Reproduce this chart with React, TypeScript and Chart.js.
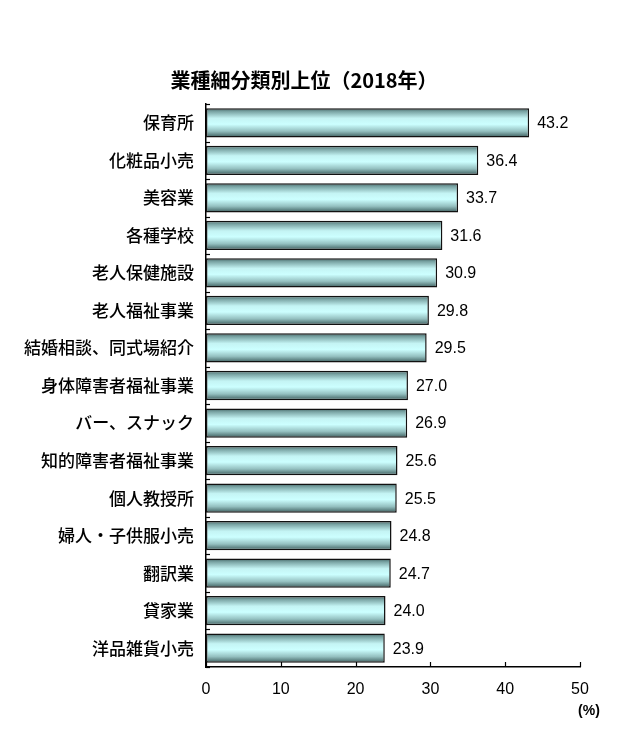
import React, { useEffect, useRef } from "react";
import { Chart, registerables } from "chart.js";

Chart.register(...registerables);

const titleText = "業種細分類別上位（2018年）";
const categories = [
  "保育所",
  "化粧品小売",
  "美容業",
  "各種学校",
  "老人保健施設",
  "老人福祉事業",
  "結婚相談、同式場紹介",
  "身体障害者福祉事業",
  "バー、スナック",
  "知的障害者福祉事業",
  "個人教授所",
  "婦人・子供服小売",
  "翻訳業",
  "貸家業",
  "洋品雑貨小売",
];
const values = [43.2, 36.4, 33.7, 31.6, 30.9, 29.8, 29.5, 27.0, 26.9, 25.6, 25.5, 24.8, 24.7, 24.0, 23.9];
const xTicks = [0, 10, 20, 30, 40, 50];
const unitLabel = "(%)";

const CJK = '"Noto Sans CJK JP", "Noto Sans", sans-serif';
const LAT = '"Liberation Sans", Arial, sans-serif';

export default function App() {
  const ref = useRef<HTMLCanvasElement | null>(null);
  useEffect(() => {
    if (!ref.current) return;
    const decor = {
      id: "decor",
      afterDatasetsDraw(chart: any) {
        const ctx = chart.ctx;
        const xs = chart.scales.x;
        const ys = chart.scales.y;
        const area = chart.chartArea;
        ctx.save();
        const meta = chart.getDatasetMeta(0);
        ctx.fillStyle = "#000";
        ctx.font = `16px ${LAT}`;
        ctx.textAlign = "left";
        ctx.textBaseline = "middle";
        meta.data.forEach((el: any, i: number) => {
          ctx.fillText(values[i].toFixed(1), el.x + 8, el.y + 1);
        });
        ctx.strokeStyle = "#000";
        ctx.lineWidth = 1.2;
        xTicks.forEach((v) => {
          const px = Math.round(xs.getPixelForValue(v)) + 0.5;
          ctx.beginPath();
          ctx.moveTo(px, area.bottom);
          ctx.lineTo(px, area.bottom - 5);
          ctx.stroke();
        });
        for (let i = 0; i <= categories.length; i++) {
          const py = Math.round(ys.getPixelForValue(i - 0.5)) + 0.5;
          ctx.beginPath();
          ctx.moveTo(area.left, py);
          ctx.lineTo(area.left + 4, py);
          ctx.stroke();
        }
        ctx.font = `bold 20px ${CJK}`;
        ctx.textAlign = "center";
        ctx.fillText(titleText, 304, 80);
        ctx.font = `bold 14px ${LAT}`;
        ctx.fillText(unitLabel, 589, 711);
        ctx.restore();
      },
    };
    const chart = new Chart(ref.current, {
      type: "bar",
      data: {
        labels: categories,
        datasets: [
          {
            data: values,
            borderColor: "#111",
            borderWidth: 1.5,
            borderSkipped: false,
            barPercentage: 0.78,
            categoryPercentage: 1,
            backgroundColor: (c: any) => {
              const chart = c.chart;
              const ys = chart.scales && chart.scales.y;
              if (!ys || c.dataIndex === undefined) return "#aee";
              const cy = ys.getPixelForValue(c.dataIndex);
              if (!Number.isFinite(cy)) return "#aee";
              const h = 30;
              const g = chart.ctx.createLinearGradient(0, cy - h / 2, 0, cy + h / 2);
              g.addColorStop(0, "#3a5a5a");
              g.addColorStop(0.12, "#78a2a2");
              g.addColorStop(0.35, "#c4f4f4");
              g.addColorStop(0.55, "#ccffff");
              g.addColorStop(0.78, "#94c0c0");
              g.addColorStop(1, "#365555");
              return g;
            },
          },
        ],
      },
      options: {
        animation: false,
        responsive: true,
        maintainAspectRatio: false,
        indexAxis: "y",
        layout: { padding: { top: 104, right: 60, left: 0, bottom: 0 } },
        plugins: {
          legend: { display: false },
          title: { display: false },
          tooltip: { enabled: false },
        },
        scales: {
          x: {
            min: 0,
            max: 50,
            afterBuildTicks: (s: any) => {
              s.ticks = xTicks.map((v) => ({ value: v }));
            },
            afterFit: (s: any) => {
              s.height = 69;
            },
            grid: { display: false, drawTicks: false },
            border: { display: true, color: "#000", width: 1.5 },
            ticks: {
              color: "#000",
              font: { family: LAT, size: 16 },
              padding: 13,
              maxRotation: 0,
            },
          },
          y: {
            afterFit: (s: any) => {
              s.width = 206;
            },
            grid: { display: false, drawTicks: false },
            border: { display: true, color: "#000", width: 1.5 },
            ticks: {
              color: "#000",
              font: { family: CJK, size: 17, weight: "500" },
              padding: 12,
              autoSkip: false,
            },
          },
        },
      },
      plugins: [decor],
    } as any);
    return () => chart.destroy();
  }, []);
  return (
    <div style={{ position: "absolute", left: 0, top: 0, width: 640, height: 736, background: "#fff" }}>
      <canvas ref={ref} />
    </div>
  );
}
